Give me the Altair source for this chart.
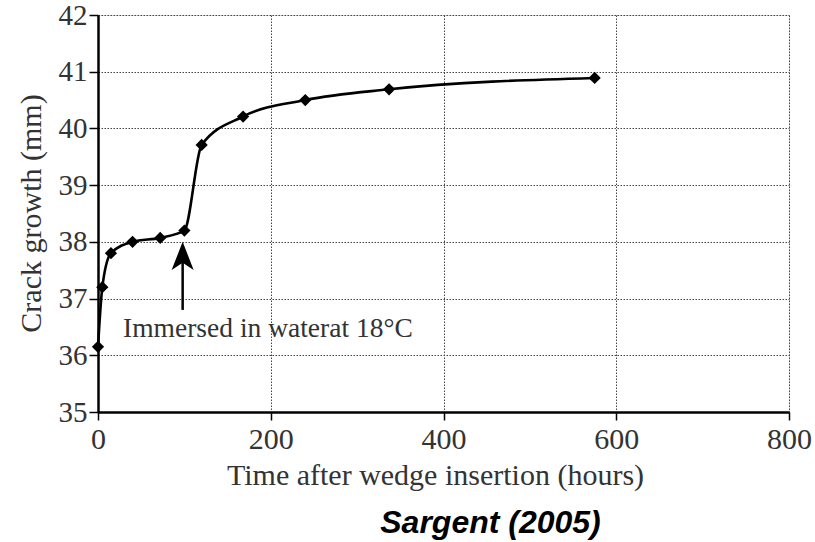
import altair as alt
import pandas as pd

# Data
hours = [0, 5, 15, 40, 72, 100, 120, 168, 240, 337, 575]
crack_mm = [36.15, 37.2, 37.8, 38.0, 38.07, 38.2, 39.71, 40.21, 40.5, 40.69, 40.89]

x_ticks = [0, 200, 400, 600, 800]
y_ticks = [35, 36, 37, 38, 39, 40, 41, 42]

annot_text = "Immersed in waterat 18°C"

df = pd.DataFrame({"hours": hours, "crack": crack_mm})

SERIF = "Liberation Serif"
TXT = "#333333"

x_enc = alt.X(
    "hours:Q",
    scale=alt.Scale(domain=[0, 800], nice=False, zero=False),
    axis=alt.Axis(
        values=x_ticks, title="Time after wedge insertion (hours)", format="d",
        labelFont=SERIF, labelFontSize=30, labelColor=TXT, labelPadding=4,
        labelFlush=False, labelOverlap=False,
        titleFont=SERIF, titleFontSize=30, titleFontWeight="normal", titleColor=TXT,
        titleX=337, titleY=63, titleBaseline="middle", titleAlign="center",
        tickSize=8, tickColor="black", tickWidth=1.5,
        domainColor="black", domainWidth=2.5,
        grid=True, gridColor="#444444", gridDash=[1.5, 1.5], gridWidth=1,
    ),
)
y_enc = alt.Y(
    "crack:Q",
    scale=alt.Scale(domain=[35, 42], nice=False, zero=False),
    axis=alt.Axis(
        values=y_ticks, title="Crack growth (mm)", format="d",
        labelFont=SERIF, labelFontSize=29, labelColor=TXT, labelPadding=2,
        labelFlush=False, labelOverlap=False,
        titleFont=SERIF, titleFontSize=30, titleFontWeight="normal", titleColor=TXT,
        titleX=-67, titleY=198, titleAngle=-90, titleBaseline="middle", titleAlign="center",
        tickSize=9, tickColor="black", tickWidth=1.5,
        domainColor="black", domainWidth=2.5,
        grid=True, gridColor="#444444", gridDash=[1.5, 1.5], gridWidth=1,
    ),
)

base = alt.Chart(df)

line = base.mark_line(color="black", strokeWidth=2.6, interpolate="monotone").encode(x=x_enc, y=y_enc)
pts = base.mark_point(shape="diamond", filled=True, color="black", size=150, opacity=1).encode(
    x="hours:Q", y="crack:Q")

arrow_df = pd.DataFrame({"x": [98], "y0": [36.8], "y1": [37.65], "tip": [38.0]})
shaft = alt.Chart(arrow_df).mark_rule(color="black", strokeWidth=2.5).encode(
    x="x:Q", y="y0:Q", y2="y1:Q")
head = alt.Chart(arrow_df).mark_point(
    shape="M0,0L1,2.55L0,1.9L-1,2.55Z", filled=True, color="black", size=484, opacity=1
).encode(x="x:Q", y="tip:Q")

text_df = pd.DataFrame({"x": [29], "y": [36.46], "label": [annot_text]})
annot = alt.Chart(text_df).mark_text(
    font=SERIF, fontSize=27.5, color=TXT, align="left", baseline="middle"
).encode(x="x:Q", y="y:Q", text="label:N")

chart = alt.layer(line, pts, shaft, head, annot).properties(
    width=691, height=397,
    padding={"left": 98, "top": 15, "right": 26, "bottom": 130},
    autosize=alt.AutoSizeParams(type="none"),
    title=alt.TitleParams(
        "Sargent (2005)", orient="bottom", anchor="middle",
        font="Liberation Sans", fontSize=32, fontStyle="italic", fontWeight="bold",
        color="black", dx=47, offset=18,
    ),
).configure_view(stroke="black", strokeWidth=2.5).configure(background="white")

chart.save("out.html", embed_options={"renderer": "svg", "actions": False})
